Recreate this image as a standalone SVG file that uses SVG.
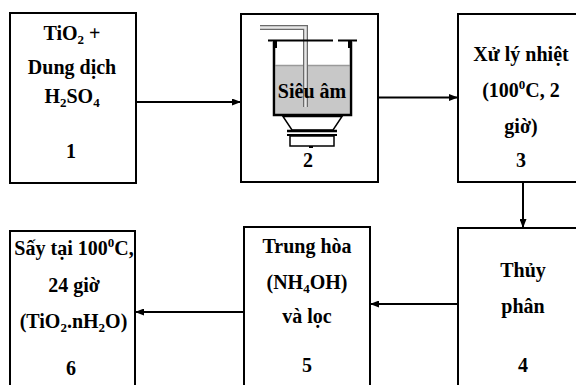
<svg xmlns="http://www.w3.org/2000/svg" width="576" height="385" viewBox="0 0 576 385">
  <style>
    .box { fill: #fff; stroke: #000; stroke-width: 2; }
    .lbl { font-family: "Liberation Serif", "Times New Roman", serif; font-weight: bold; font-size: 20px; fill: #000; text-anchor: middle; }
    .sub { font-size: 13px; }
    .conn { stroke: #000; stroke-width: 2; fill: none; marker-end: url(#arrow); }
  </style>
  <defs>
    <marker id="arrow" viewBox="0 0 9 7" refX="9" refY="3.5" markerWidth="9" markerHeight="7" markerUnits="userSpaceOnUse" orient="auto">
      <path d="M0,0 L9,3.5 L0,7 z" fill="#000"/>
    </marker>
  </defs>
  <rect width="576" height="385" fill="#fff"/>

  <!-- process steps -->
  <g id="node1">
    <rect class="box" x="10" y="13" width="126" height="170"/>
    <text class="lbl" x="72" y="40">TiO<tspan class="sub" dy="4">2</tspan><tspan dy="-4"> +</tspan></text>
    <text class="lbl" x="72" y="74">Dung dịch</text>
    <text class="lbl" x="72" y="103">H<tspan class="sub" dy="4">2</tspan><tspan dy="-4">SO</tspan><tspan class="sub" dy="4">4</tspan></text>
    <text class="lbl" x="71" y="158">1</text>
  </g>

  <g id="node2">
    <rect class="box" x="241" y="14" width="137" height="168"/>
    <!-- ultrasonic bath -->
    <rect x="275.5" y="65" width="74" height="49" fill="#c8c8c8"/>
    <line x1="275.5" y1="65.5" x2="349.5" y2="65.5" stroke="#9a9a9a" stroke-width="1.5"/>
    <path d="M260,27.5 H305.5 V107" fill="none" stroke="#6a6a6a" stroke-width="5"/>
    <path d="M260,27.5 H305.5 V107" fill="none" stroke="#e6e6e6" stroke-width="2.5"/>
    <line x1="268" y1="40.5" x2="333" y2="40.5" stroke="#000" stroke-width="2"/>
    <line x1="338" y1="40.5" x2="357" y2="40.5" stroke="#000" stroke-width="2"/>
    <rect x="273" y="40" width="4" height="8" fill="#000"/>
    <rect x="348" y="40" width="4" height="8" fill="#000"/>
    <path d="M274,42 V115 H351 V42" fill="none" stroke="#000" stroke-width="2.5"/>
    <polygon points="283,116.5 342,116.5 333,130 292,130" fill="#fff" stroke="#000" stroke-width="1.5"/>
    <line x1="287" y1="131" x2="337" y2="131" stroke="#000" stroke-width="2.5"/>
    <line x1="287" y1="135" x2="337" y2="135" stroke="#000" stroke-width="2"/>
    <rect x="290" y="136" width="44" height="10" fill="#fff" stroke="#000" stroke-width="1.5"/>
    <rect x="309" y="146" width="4" height="2" fill="#000"/>
    <text class="lbl" x="312" y="98">Siêu âm</text>
    <text class="lbl" x="308" y="167">2</text>
  </g>

  <g id="node3">
    <rect class="box" x="458" y="14" width="130" height="168"/>
    <text class="lbl" x="521" y="61">Xử lý nhiệt</text>
    <text class="lbl" x="521" y="97">(100<tspan class="sub" dy="-8">0</tspan><tspan dy="8">C, 2</tspan></text>
    <text class="lbl" x="521" y="133">giờ)</text>
    <text class="lbl" x="521" y="167">3</text>
  </g>

  <g id="node4">
    <rect class="box" x="458" y="228" width="130" height="170"/>
    <text class="lbl" x="523" y="277">Thủy</text>
    <text class="lbl" x="523" y="313">phân</text>
    <text class="lbl" x="523" y="372">4</text>
  </g>

  <g id="node5">
    <rect class="box" x="244" y="227" width="126" height="170"/>
    <text class="lbl" x="307" y="253">Trung hòa</text>
    <text class="lbl" x="307" y="289">(NH<tspan class="sub" dy="4">4</tspan><tspan dy="-4">OH)</tspan></text>
    <text class="lbl" x="307" y="323">và lọc</text>
    <text class="lbl" x="307" y="372">5</text>
  </g>

  <g id="node6">
    <rect class="box" x="10" y="231" width="125" height="170"/>
    <text class="lbl" x="74" y="255">Sấy tại 100<tspan class="sub" dy="-8">0</tspan><tspan dy="8">C,</tspan></text>
    <text class="lbl" x="74" y="292">24 giờ</text>
    <text class="lbl" x="73.5" y="328">(TiO<tspan class="sub" dy="4">2</tspan><tspan dy="-4">.nH</tspan><tspan class="sub" dy="4">2</tspan><tspan dy="-4">O)</tspan></text>
    <text class="lbl" x="71" y="375">6</text>
  </g>

  <!-- flow connectors -->
  <g id="connectors">
    <line class="conn" x1="136" y1="102" x2="241" y2="102"/>
    <line class="conn" x1="378" y1="97.5" x2="458" y2="97.5"/>
    <line class="conn" x1="523" y1="182" x2="523" y2="228"/>
    <line class="conn" x1="458" y1="304" x2="370" y2="304"/>
    <line class="conn" x1="244" y1="312" x2="135" y2="312"/>
  </g>
</svg>
